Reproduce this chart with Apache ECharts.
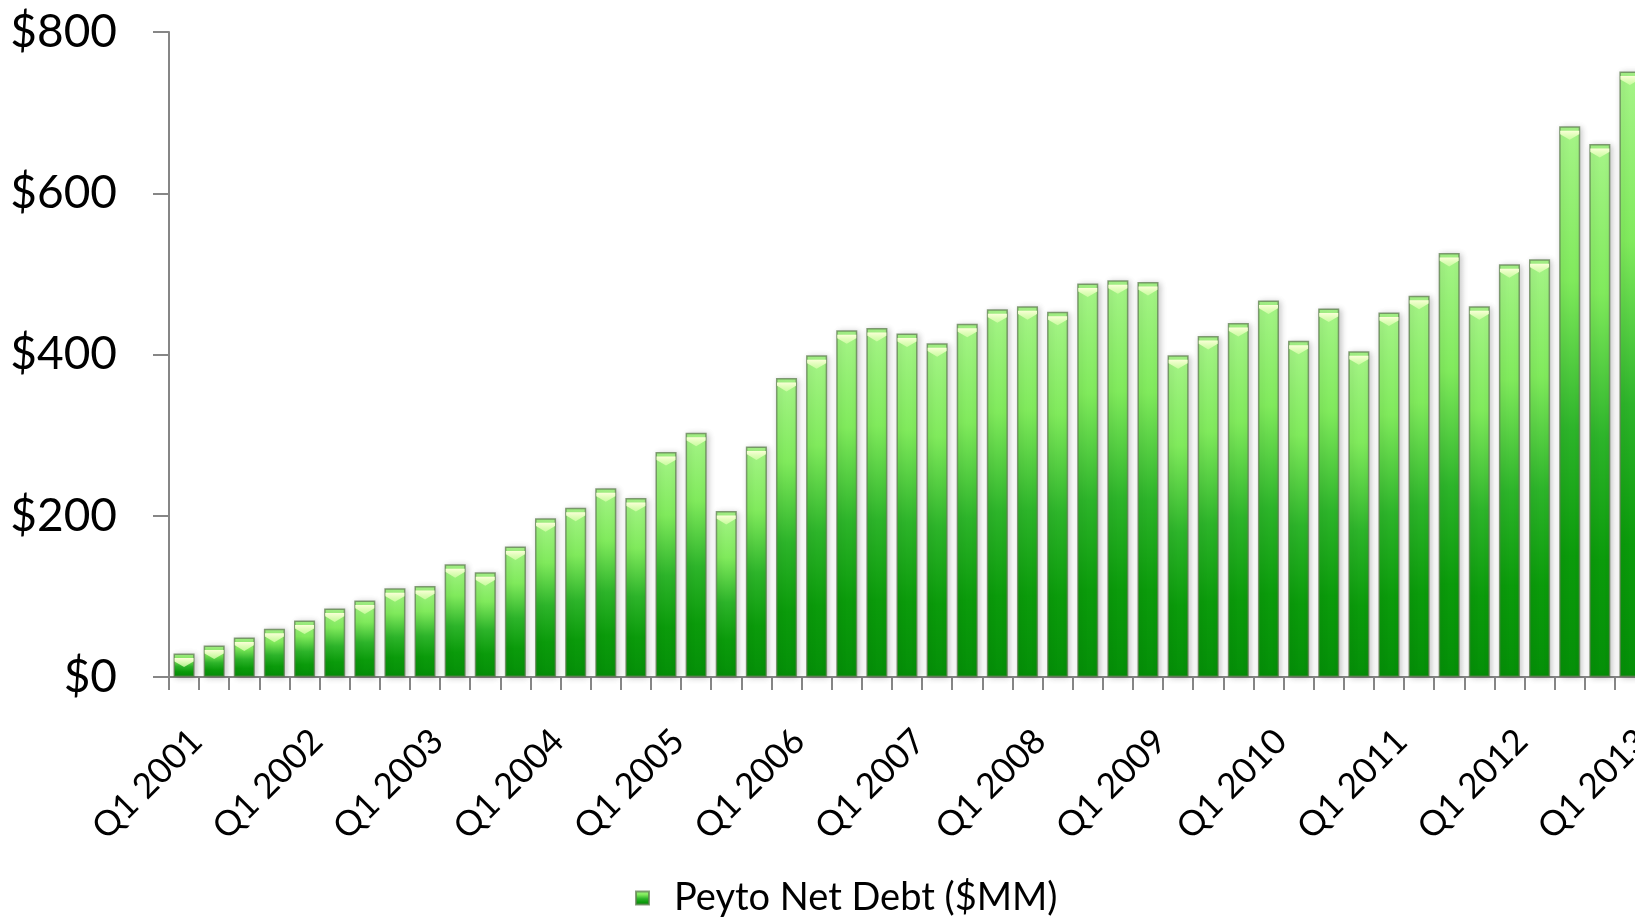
<!DOCTYPE html>
<html>
<head>
<meta charset="utf-8">
<title>Peyto Net Debt</title>
<script src="https://cdn.jsdelivr.net/npm/echarts@6/dist/echarts.min.js"></script>
<style>
  html, body { margin: 0; padding: 0; background: #ffffff; }
  #chart { width: 1635px; height: 918px; }
</style>
</head>
<body>
<div id="chart"></div>
<script>
// Quarterly categories, Q1 2001 through Q1 2013
const quarters = [
  'Q1 2001','Q2 2001','Q3 2001','Q4 2001',
  'Q1 2002','Q2 2002','Q3 2002','Q4 2002',
  'Q1 2003','Q2 2003','Q3 2003','Q4 2003',
  'Q1 2004','Q2 2004','Q3 2004','Q4 2004',
  'Q1 2005','Q2 2005','Q3 2005','Q4 2005',
  'Q1 2006','Q2 2006','Q3 2006','Q4 2006',
  'Q1 2007','Q2 2007','Q3 2007','Q4 2007',
  'Q1 2008','Q2 2008','Q3 2008','Q4 2008',
  'Q1 2009','Q2 2009','Q3 2009','Q4 2009',
  'Q1 2010','Q2 2010','Q3 2010','Q4 2010',
  'Q1 2011','Q2 2011','Q3 2011','Q4 2011',
  'Q1 2012','Q2 2012','Q3 2012','Q4 2012',
  'Q1 2013'
];

// Net debt at quarter end, $MM
const netDebt = [
  29, 39, 49, 60,
  70, 85, 95, 110,
  113, 140, 130, 162,
  197, 210, 234, 222,
  279, 303, 206, 286,
  371, 399, 430, 433,
  426, 414, 438, 456,
  460, 453, 488, 492,
  490, 399, 423, 439,
  467, 417, 457, 404,
  452, 473, 526, 460,
  512, 518, 683, 661,
  751
];

// Value axis ticks
const yTicks = [0, 200, 400, 600, 800];

const seriesName = 'Peyto Net Debt ($MM)';
const FONT = 'Lato';

const barFill = new echarts.graphic.LinearGradient(0, 0, 0, 1, [
  { offset: 0.00, color: '#a6f488' },
  { offset: 0.28, color: '#80ea5c' },
  { offset: 0.55, color: '#2db42a' },
  { offset: 0.78, color: '#0b9b0b' },
  { offset: 1.00, color: '#058f08' }
]);

const capFill = new echarts.graphic.LinearGradient(0, 0, 0, 1, [
  { offset: 0, color: 'rgba(250,255,215,1)' },
  { offset: 1, color: 'rgba(215,255,170,0.75)' }
]);

const chart = echarts.init(document.getElementById('chart'), null, { renderer: 'canvas' });

chart.setOption({
  animation: false,
  backgroundColor: '#ffffff',
  grid: {
    left: 169,
    top: 32,
    width: 1476,
    height: 645,
    containLabel: false,
    outerBoundsMode: 'none'
  },
  legend: {
    data: [{ name: seriesName, icon: 'rect' }],
    left: 635,
    top: 876,
    padding: 0,
    itemWidth: 13,
    itemHeight: 13,
    textStyle: {
      fontFamily: FONT,
      fontSize: 38,
      color: '#000000',
      lineHeight: 44,
      padding: [0, 0, 0, 20]
    }
  },
  xAxis: {
    type: 'category',
    data: quarters,
    boundaryGap: true,
    axisLine: { show: true, lineStyle: { color: '#868686', width: 2 } },
    axisTick: { show: true, interval: 0, length: 13, lineStyle: { color: '#868686', width: 2 } },
    axisLabel: {
      interval: 3,
      rotate: 45,
      margin: 46,
      align: 'right',
      verticalAlign: 'top',
      fontFamily: FONT,
      fontSize: 35,
      color: '#000000'
    },
    splitLine: { show: false }
  },
  yAxis: {
    type: 'value',
    min: yTicks[0],
    max: yTicks[yTicks.length - 1],
    interval: yTicks[1] - yTicks[0],
    axisLine: { show: true, lineStyle: { color: '#868686', width: 2 } },
    axisTick: { show: true, length: 16, lineStyle: { color: '#868686', width: 2 } },
    axisLabel: {
      margin: 52,
      fontFamily: FONT,
      fontSize: 46,
      color: '#000000',
      formatter: v => '$' + v
    },
    splitLine: { show: false }
  },
  series: [
    {
      name: seriesName,
      type: 'bar',
      data: netDebt,
      barWidth: '70%',
      barGap: '-100%',
      itemStyle: {
        color: barFill,
        borderColor: 'rgba(95,125,80,0.75)',
        borderWidth: 1.5,
        shadowBlur: 6,
        shadowOffsetX: 2,
        shadowOffsetY: 1,
        shadowColor: 'rgba(0,0,0,0.22)'
      }
    },
    {
      name: 'cap',
      type: 'pictorialBar',
      data: netDebt,
      barWidth: '70%',
      symbol: 'path://M0,0 L20,0 L20,3 L10,8 L0,3 Z',
      symbolSize: [19, 9],
      symbolPosition: 'end',
      symbolOffset: [0, '50%'],
      itemStyle: { color: capFill },
      silent: true,
      z: 3
    }
  ]
});
</script>
</body>
</html>
